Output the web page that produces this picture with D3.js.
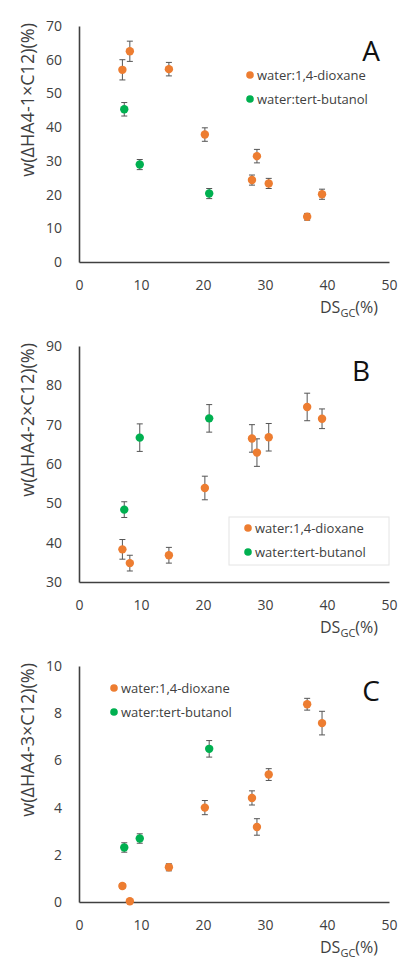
<!DOCTYPE html>
<html>
<head>
<meta charset="utf-8">
<script src="https://cdn.jsdelivr.net/npm/d3@7"></script>
<style>
  body { margin: 0; background: #fff; }
  svg { display: block; font-family: "Open Sans", "Noto Sans", sans-serif; }
</style>
</head>
<body>
<div id="chart"></div>
<script>
// DS_GC (%) for each sample
const dsDioxane = [7.0, 8.2, 14.5, 20.3, 27.9, 28.7, 30.6, 36.8, 39.2];
const dsButanol = [7.3, 9.8, 21.0];

const seriesNames = ['water:1,4-dioxane', 'water:tert-butanol'];
const xTicks = [0, 10, 20, 30, 40, 50];

// Panel A: w(ΔHA4-1×C12)
const aDioxane = [57, 62.5, 57.2, 37.8, 24.3, 31.4, 23.3, 13.4, 20.1];
const aDioxaneErr = [3, 3, 2, 2, 1.5, 2, 1.5, 1, 1.5];
const aButanol = [45.3, 28.9, 20.3];
const aButanolErr = [2, 1.5, 1.5];
const aTicks = [0, 10, 20, 30, 40, 50, 60, 70];

// Panel B: w(ΔHA4-2×C12)
const bDioxane = [38.3, 34.8, 36.8, 53.9, 66.5, 62.9, 66.8, 74.5, 71.5];
const bDioxaneErr = [2.5, 2, 2, 3, 3.5, 3.5, 3.5, 3.5, 2.5];
const bButanol = [48.4, 66.7, 71.6];
const bButanolErr = [2, 3.5, 3.5];
const bTicks = [30, 40, 50, 60, 70, 80, 90];

// Panel C: w(ΔHA4-3×C12)
const cDioxane = [0.68, 0.03, 1.47, 4.0, 4.41, 3.18, 5.4, 8.38, 7.58];
const cDioxaneErr = [0.1, 0.05, 0.15, 0.3, 0.3, 0.35, 0.25, 0.25, 0.5];
const cButanol = [2.31, 2.69, 6.49];
const cButanolErr = [0.2, 0.2, 0.35];
const cTicks = [0, 2, 4, 6, 8, 10];

const width = 409, height = 963;
const orange = '#ED7D31', green = '#00B050';
const axisColor = '#404040', textColor = '#404040';

const svg = d3.select('#chart').append('svg')
  .attr('width', width)
  .attr('height', height);

const panels = [
  { top: 0, label: 'A', n: '1', ticks: aTicks, d: aDioxane, de: aDioxaneErr, b: aButanol, be: aButanolErr, legend: 'topRight' },
  { top: 320, label: 'B', n: '2', ticks: bTicks, d: bDioxane, de: bDioxaneErr, b: bButanol, be: bButanolErr, legend: 'bottomRight' },
  { top: 640, label: 'C', n: '3', ticks: cTicks, d: cDioxane, de: cDioxaneErr, b: cButanol, be: cButanolErr, legend: 'topLeft' }
];

panels.forEach(p => drawPanel(p));

function drawPanel(p) {
  const g = svg.append('g').attr('transform', `translate(0,${p.top})`);
  const left = 79, right = 389, top = 26, bottom = 262;

  const x = d3.scaleLinear().domain([0, 50]).range([left, right]);
  const y = d3.scaleLinear().domain(d3.extent(p.ticks)).range([bottom, top]);

  // legend position
  let lx, ly, box = null;
  if (p.legend === 'topRight') { lx = 250; ly = 75; }
  else if (p.legend === 'bottomRight') { lx = 248; ly = 208; box = [229, 197, 160, 48]; }
  else { lx = 114; ly = 48; }

  if (box) {
    g.append('rect')
      .attr('x', box[0]).attr('y', box[1])
      .attr('width', box[2]).attr('height', box[3])
      .attr('fill', '#fff')
      .attr('stroke', '#e4e4e4')
      .attr('stroke-width', 1);
  }

  // axes
  const yAxis = g.append('g')
    .attr('transform', `translate(${left},0)`)
    .call(d3.axisLeft(y).tickValues(p.ticks).tickSize(0).tickPadding(17));
  const xAxis = g.append('g')
    .attr('transform', `translate(0,${bottom})`)
    .call(d3.axisBottom(x).tickValues(xTicks).tickSize(0).tickPadding(18));
  [xAxis, yAxis].forEach(a => {
    a.select('.domain').attr('stroke', axisColor).attr('stroke-width', 1.6);
    a.selectAll('text')
      .attr('fill', textColor)
      .style('font-size', '14px')
      .style('font-family', '"Open Sans", sans-serif');
  });

  const series = [
    { xs: dsDioxane, ys: p.d, es: p.de, color: orange },
    { xs: dsButanol, ys: p.b, es: p.be, color: green }
  ];

  series.forEach(s => {
    const pts = s.xs.map((v, i) => ({ x: v, y: s.ys[i], e: s.es[i] }));
    const eg = g.append('g');
    eg.selectAll('line.bar').data(pts).join('line')
      .attr('x1', d => x(d.x)).attr('x2', d => x(d.x))
      .attr('y1', d => y(d.y - d.e)).attr('y2', d => y(d.y + d.e))
      .attr('stroke', '#555').attr('stroke-width', 1);
    [-1, 1].forEach(sign => {
      eg.selectAll(null).data(pts).join('line')
        .attr('x1', d => x(d.x) - 3).attr('x2', d => x(d.x) + 3)
        .attr('y1', d => y(d.y + sign * d.e)).attr('y2', d => y(d.y + sign * d.e))
        .attr('stroke', '#555').attr('stroke-width', 1);
    });
    g.append('g').selectAll('circle').data(pts).join('circle')
      .attr('cx', d => x(d.x))
      .attr('cy', d => y(d.y))
      .attr('r', 4.2)
      .attr('fill', s.color);
  });

  // legend
  const leg = g.append('g');
  seriesNames.forEach((name, i) => {
    const yy = ly + i * 24;
    leg.append('circle')
      .attr('cx', lx).attr('cy', yy).attr('r', 3.8)
      .attr('fill', i === 0 ? orange : green);
    leg.append('text')
      .attr('x', lx + 7).attr('y', yy + 5)
      .attr('fill', textColor)
      .style('font-size', '13px')
      .text(name);
  });

  // panel letter
  g.append('text')
    .attr('x', p.label === 'B' ? 361 : 371)
    .attr('y', 61)
    .attr('text-anchor', 'middle')
    .attr('fill', '#111')
    .style('font-size', '28px')
    .text(p.label);

  // y title
  g.append('text')
    .attr('transform', `translate(34,${top - 3}) rotate(-90)`)
    .attr('text-anchor', 'end')
    .attr('fill', textColor)
    .style('font-size', '18px')
    .text(`w(ΔHA4-${p.n}×C12)(%)`);

  // x title
  const xt = g.append('text')
    .attr('x', 378).attr('y', 313)
    .attr('text-anchor', 'end')
    .attr('fill', textColor)
    .style('font-size', '16px');
  xt.append('tspan').text('DS');
  xt.append('tspan').attr('dy', 4).style('font-size', '11px').text('GC');
  xt.append('tspan').attr('dy', -4).text('(%)');
}
</script>
</body>
</html>
